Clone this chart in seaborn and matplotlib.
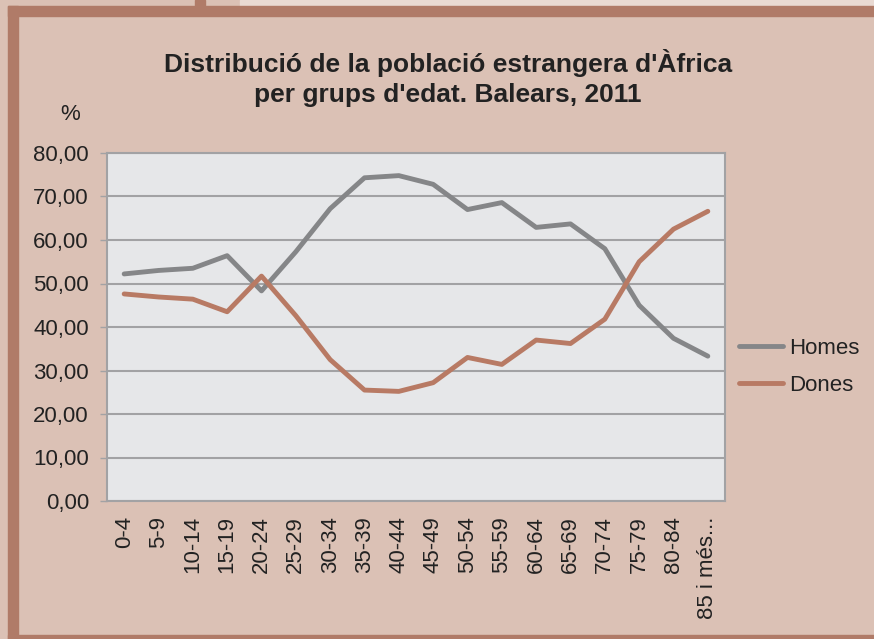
import numpy as np
import pandas as pd
import matplotlib.pyplot as plt
import seaborn as sns
from matplotlib.patches import Rectangle

# age groups and percentages
grups = ["0-4", "5-9", "10-14", "15-19", "20-24", "25-29", "30-34", "35-39",
         "40-44", "45-49", "50-54", "55-59", "60-64", "65-69", "70-74",
         "75-79", "80-84", "85 i més..."]
homes = [52.2, 53.0, 53.5, 56.4, 48.3, 57.3, 67.2, 74.3, 74.8, 72.8,
         67.0, 68.6, 62.9, 63.7, 58.0, 45.0, 37.4, 33.3]
dones = [47.6, 46.9, 46.4, 43.5, 51.7, 42.6, 32.5, 25.5, 25.2, 27.2,
         33.0, 31.4, 37.0, 36.2, 41.8, 55.0, 62.5, 66.6]

df = pd.DataFrame({"grup": grups * 2,
                   "valor": homes + dones,
                   "sexe": ["Homes"] * len(grups) + ["Dones"] * len(grups)})

sns.set_style("white")
plt.rcParams['font.family'] = ['Liberation Sans', 'DejaVu Sans']

bg = "#dbc1b5"
frame = "#b07b68"
fig = plt.figure(figsize=(8.74, 6.39), dpi=100, facecolor=bg)
W, H = 874, 639

# decorative frame
def rect(x, y, w, h, c):
    fig.patches.append(Rectangle((x / W, 1 - (y + h) / H), w / W, h / H,
                                 transform=fig.transFigure, color=c, zorder=0))
rect(240, 0, W - 240, 6, "#e9dad3")
rect(195, 0, 10, 6, frame)
rect(8, 6, W - 8, 10, frame)
rect(8, 6, 10, H - 6, frame)
rect(8, 635, W - 8, 4, frame)

ax = fig.add_axes([107 / W, 1 - 501 / H, (725 - 107) / W, (501 - 153) / H])
ax.set_facecolor("#e6e7e9")

sns.lineplot(data=df, x="grup", y="valor", hue="sexe", sort=False,
             palette={"Homes": "#858688", "Dones": "#b87a64"},
             linewidth=3.5, ax=ax)

ax.set_ylim(0, 80)
ax.set_xlim(-0.5, len(grups) - 0.5)
ax.set_yticks(np.arange(0, 81, 10))
ax.set_yticklabels([f"{v:.2f}".replace(".", ",") for v in np.arange(0, 81, 10)])
ax.yaxis.grid(True, color="#a2a2a4", linewidth=1.5)
ax.set_axisbelow(True)
ax.tick_params(axis="y", labelsize=16, colors="#222222", length=5,
               width=1, pad=8, left=True)
ax.tick_params(axis="x", labelsize=16, colors="#222222", rotation=90,
               length=0, pad=11)
for lab in ax.get_xticklabels():
    lab.set_verticalalignment("top")
for s in ax.spines.values():
    s.set_color("#a2a2a4")
    s.set_linewidth(1.5)
ax.tick_params(axis="y", color="#a2a2a4")
ax.set_xlabel("")
ax.set_ylabel("")

fig.text(70 / W, 1 - 115 / H, "%", fontsize=16, ha="center", va="center",
         color="#222222")
fig.text(448 / W, 1 - 78 / H,
         "Distribució de la població estrangera d'Àfrica\nper grups d'edat. Balears, 2011",
         fontsize=19, fontweight="bold", ha="center", va="center",
         color="#222222", linespacing=1.3)

leg = ax.legend(loc="center left", bbox_to_anchor=(739 / W, 1 - 367 / H),
                bbox_transform=fig.transFigure, frameon=False,
                fontsize=16, handlelength=2.0, labelspacing=0.7,
                handletextpad=0.25, borderaxespad=0, borderpad=0)
for t in leg.get_texts():
    t.set_color("#222222")

fig.savefig("out.png", dpi=100, facecolor=bg)
